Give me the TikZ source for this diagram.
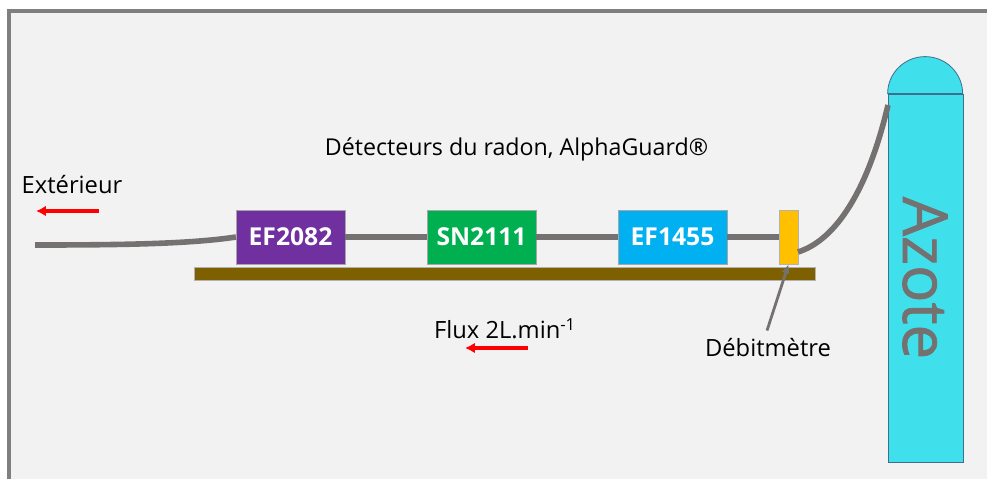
\documentclass[tikz,border=0pt]{standalone}
\usepackage{xcolor}
\usepackage{fontspec}
\setmainfont{Open Sans}
\usetikzlibrary{arrows.meta, positioning, calc}

\definecolor{framegray}{HTML}{7F7F7F}
\definecolor{tubegray}{HTML}{767171}
\definecolor{panelgray}{HTML}{F2F2F2}
\definecolor{detpurple}{HTML}{7030A0}
\definecolor{detgreen}{HTML}{00B050}
\definecolor{detblue}{HTML}{00B0F0}
\definecolor{meterorange}{HTML}{FFC000}
\definecolor{shelfbrown}{HTML}{7F6000}
\definecolor{bottlecyan}{HTML}{3FDFEB}
\definecolor{bottleline}{HTML}{3F6F8F}

\begin{document}
\begin{tikzpicture}[
  x=0.75pt, y=-0.75pt,
  detector/.style={rectangle, draw=gray!70, line width=0.4pt, minimum width=81.5pt, minimum height=40.5pt, inner sep=0pt, align=center, text=white, font=\fontsize{18.5}{20}\selectfont\bfseries},
  label/.style={inner sep=0pt, font=\fontsize{17.8}{20}\selectfont, text=black},
  tube/.style={line width=4.2pt, tubegray},
  flow/.style={-{Latex[length=2.6mm, width=2.8mm]}, line width=2.3pt, red},
  pointer/.style={-{Latex[length=2.4mm, width=2.2mm]}, line width=2.1pt, tubegray}
]
\useasboundingbox (0,0) rectangle (987,479);
\fill[panelgray] (9,11) rectangle (987,479);
\draw[framegray, line width=3.2pt] (9,479) -- (9,11) -- (987,11);

\node[label, font=\fontsize{17.4}{20}\selectfont] (title) at (516.5,149) {Détecteurs du radon, AlphaGuard®};
\node[label] (exterieur) at (72,185) {Extérieur};
\node[label] (flux) at (505,329) {Flux 2L.min\textsuperscript{-1}};
\node[label] (debit) at (768,348) {Débitmètre};

% shelf and bottle
\node[rectangle, draw=gray!60, line width=0.3pt, fill=shelfbrown, minimum width=466pt, minimum height=9.6pt, inner sep=0pt] (shelf) at (505,273.5) {};
\node[rectangle, draw=bottleline, line width=0.6pt, fill=bottlecyan, minimum width=56.2pt, minimum height=276pt, inner sep=0pt] (bottle) at (925.5,278) {};
\draw[bottleline, line width=0.6pt, fill=bottlecyan] (bottle.north west) arc[start angle=180, end angle=0, x radius=37.5, y radius=-37] -- cycle;
\node[rotate=-90, inner sep=0pt, text=tubegray, font=\fontsize{46.5}{50}\selectfont\addfontfeature{FakeBold=1.2}] (azote) at (925,278) {Azote};

% detectors
\node[detector, fill=detpurple] (ef2082) at (290.5,237) {EF2082};
\node[detector, fill=detgreen] (sn2111) at (481.5,237) {SN2111};
\node[detector, fill=detblue] (ef1455) at (672.5,237) {EF1455};
\node[rectangle, draw=gray!60, line width=0.4pt, fill=meterorange, minimum width=14.2pt, minimum height=40.5pt, inner sep=0pt] (meter) at (788.5,237) {};

\coordinate (tubeend) at (35,245);
\coordinate (meterout) at (798,252);
\coordinate (bottlein) at (888,105);
\coordinate (flowext) at (99,211);
\coordinate (flowextend) at (36,211);
\coordinate (flowflux) at (528,348);
\coordinate (flowfluxend) at (465,348);

\draw[tube] (tubeend) .. controls (120,245) and (190,244) .. (ef2082.west);
\draw[tube] (ef2082.east) -- (sn2111.west);
\draw[tube] (sn2111.east) -- (ef1455.west);
\draw[tube] (ef1455.east) -- (meter.west);
\draw[tube] (meterout) .. controls (836,240) and (868,190) .. (bottlein);

\draw[flow] (flowext) -- (flowextend);
\draw[flow] (flowflux) -- (flowfluxend);
\draw[pointer] ($(debit.north)+(-1,-8)$) -- (meter.south);
\end{tikzpicture}
\end{document}
